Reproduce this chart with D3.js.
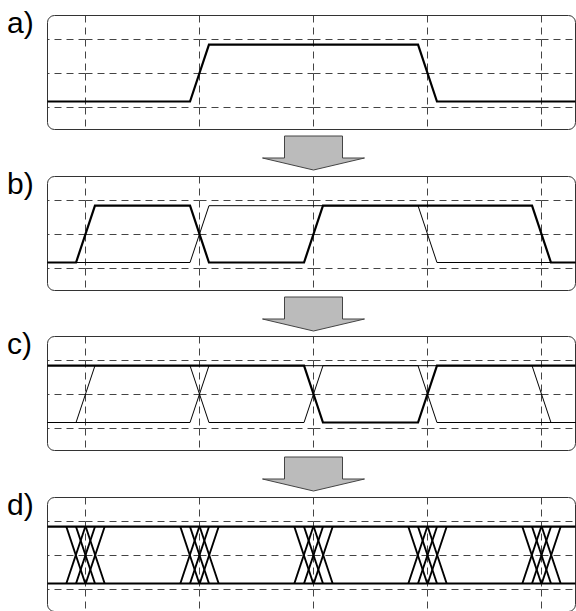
<!DOCTYPE html>
<html>
<head>
<meta charset="utf-8">
<script src="https://cdn.jsdelivr.net/npm/d3@7"></script>
<style>
  body { margin: 0; background: #fff; }
  svg { display: block; }
</style>
</head>
<body>
<div class="eyechart"></div>
<script>
// panel labels, bit sequences (one level per interval around the grid times), eye jitter
var panelLabels = ['a)', 'b)', 'c)', 'd)'];
var gridTimes = [0, 1, 2, 3, 4];
var gridLevels = [-0.1, 0.5, 1.1];
var bitsA = [0, 0, 1, 1, 0, 0];
var bitsB = [0, 1, 0, 1, 1, 0];
var bitsC = [1, 1, 1, 0, 1, 1];
var eyeJitter = [-0.085, 0, 0.085];

var panels = [
    { label: panelLabels[0], thin: [], bold: bitsA },
    { label: panelLabels[1], thin: [bitsA], bold: bitsB },
    { label: panelLabels[2], thin: [bitsA, bitsB], bold: bitsC },
    { label: panelLabels[3], eye: true }
];

var width = 576, height = 611;
var boxLeft = 47.5, boxRight = 575.5, boxH = 114, radius = 7;
var panelTop = [15.5, 176.5, 336.5, 497.5];
var halfEdge = 0.083; // half of a transition, in unit intervals

var svg = d3.select('.eyechart')
    .append('svg')
    .attr('width', width)
    .attr('height', height);

var x = d3.scaleLinear()
    .domain([0, 4])
    .range([85.5, 541.5]);
var tMin = x.invert(boxLeft), tMax = x.invert(boxRight);

function wavePoints(bits) {
    var pts = [[tMin, bits[0]]];
    gridTimes.forEach(function(t, j) {
        if (bits[j] !== bits[j + 1]) {
            pts.push([t - halfEdge, bits[j]]);
            pts.push([t + halfEdge, bits[j + 1]]);
        }
    });
    pts.push([tMax, bits[bits.length - 1]]);
    return pts;
}

panels.forEach(function(p, i) {
    var top = panelTop[i];
    var y = d3.scaleLinear()
        .domain([0, 1])
        .range([top + 86, top + 29.2]);

    var g = svg.append('g').attr('class', 'panel');

    g.append('text')
        .attr('x', 7)
        .attr('y', top + 17)
        .attr('font-family', 'Liberation Sans, Arial, sans-serif')
        .attr('font-size', 30)
        .attr('fill', '#000')
        .text(p.label);

    // dashed grid, drawn in pieces starting at every crossing
    var grid = g.append('g')
        .attr('fill', 'none')
        .attr('stroke', '#444')
        .attr('stroke-width', 1)
        .attr('stroke-dasharray', '7,5');

    var ys = [top].concat(gridLevels.slice().reverse().map(function(l) { return Math.round(y(l)) + 0.5; })).concat([top + boxH]);
    gridTimes.forEach(function(t) {
        var xp = Math.round(x(t)) - 0.5;
        for (var k = 0; k < ys.length - 1; k++) {
            grid.append('line')
                .attr('x1', xp).attr('x2', xp)
                .attr('y1', ys[k])
                .attr('y2', ys[k + 1]);
        }
    });
    var xs = [boxLeft].concat(gridTimes.map(function(t) { return Math.round(x(t)) - 0.5; })).concat([boxRight]);
    gridLevels.forEach(function(l) {
        var yp = Math.round(y(l)) + 0.5;
        for (var k = 0; k < xs.length - 1; k++) {
            grid.append('line')
                .attr('x1', k === 0 ? xs[k + 1] : xs[k])
                .attr('x2', k === 0 ? xs[k] : xs[k + 1])
                .attr('y1', yp).attr('y2', yp);
        }
    });

    g.append('rect')
        .attr('x', boxLeft)
        .attr('y', top)
        .attr('width', boxRight - boxLeft)
        .attr('height', boxH)
        .attr('rx', radius)
        .attr('fill', 'none')
        .attr('stroke', '#333')
        .attr('stroke-width', 1);

    var line = d3.line()
        .x(function(d) { return x(d[0]); })
        .y(function(d) { return y(d[1]); });

    if (p.eye) {
        g.append('path')
            .attr('d', line([[tMin, 1], [tMax, 1]]))
            .attr('stroke', '#000').attr('stroke-width', 2.2).attr('fill', 'none');
        g.append('path')
            .attr('d', line([[tMin, 0], [tMax, 0]]))
            .attr('stroke', '#000').attr('stroke-width', 2.2).attr('fill', 'none');
        var edges = [];
        gridTimes.forEach(function(t) {
            eyeJitter.forEach(function(j) {
                edges.push([[t + j - halfEdge, 0], [t + j + halfEdge, 1]]);
                edges.push([[t + j - halfEdge, 1], [t + j + halfEdge, 0]]);
            });
        });
        g.selectAll('.edge')
            .data(edges)
            .enter().append('path')
            .attr('class', 'edge')
            .attr('d', line)
            .attr('stroke', '#000')
            .attr('stroke-width', 1.9)
            .attr('fill', 'none');
    } else {
        g.selectAll('.thin')
            .data(p.thin)
            .enter().append('path')
            .attr('class', 'thin')
            .attr('d', function(d) { return line(wavePoints(d)); })
            .attr('stroke', '#000')
            .attr('stroke-width', 1)
            .attr('fill', 'none');
        g.append('path')
            .attr('class', 'bold')
            .attr('d', line(wavePoints(p.bold)))
            .attr('stroke', '#000')
            .attr('stroke-width', 2.2)
            .attr('stroke-linejoin', 'miter')
            .attr('fill', 'none');
    }

    // arrow down to the next panel
    if (i < panels.length - 1) {
        var cx = x(2), at = top + boxH + 6.5;
        var pts = [
            [cx - 29, at], [cx + 29, at], [cx + 29, at + 22], [cx + 51, at + 22],
            [cx, at + 34], [cx - 51, at + 22], [cx - 29, at + 22]
        ];
        svg.append('path')
            .attr('d', 'M' + pts.join('L') + 'Z')
            .attr('fill', '#bbbbbb')
            .attr('stroke', '#444')
            .attr('stroke-width', 1);
    }
});
</script>
</body>
</html>
